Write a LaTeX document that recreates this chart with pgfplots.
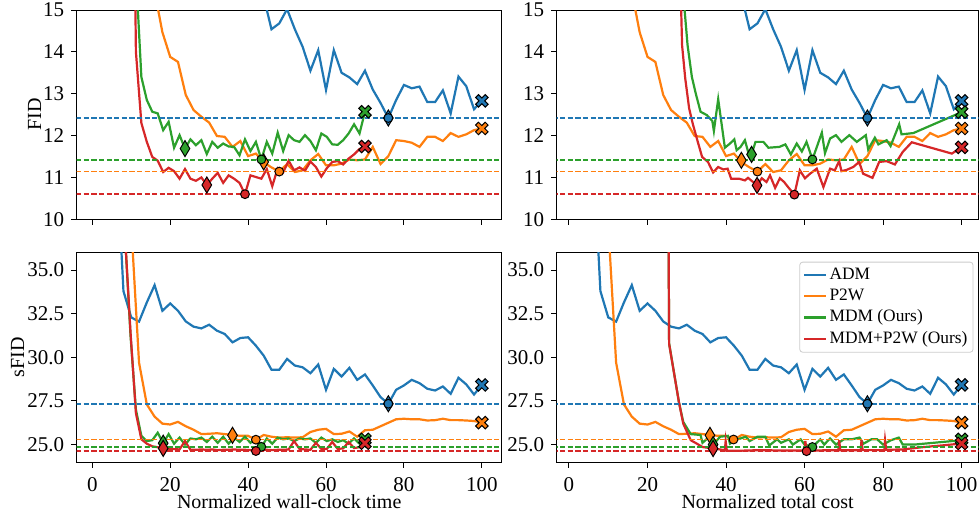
\documentclass[border=0pt]{standalone}
\usepackage{fontspec}
\setmainfont{Liberation Serif}
\usepackage{pgfplots}
\pgfplotsset{compat=1.18}

\definecolor{cA}{HTML}{1F77B4}
\definecolor{cB}{HTML}{FF7F0E}
\definecolor{cC}{HTML}{2CA02C}
\definecolor{cD}{HTML}{D62728}

% filled plus, turned 45 degrees when used -> matplotlib "X"
\pgfdeclareplotmark{fatplus}{%
  \pgfpathmoveto{\pgfqpoint{0.3\pgfplotmarksize}{0.3\pgfplotmarksize}}%
  \pgfpathlineto{\pgfqpoint{0.3\pgfplotmarksize}{\pgfplotmarksize}}%
  \pgfpathlineto{\pgfqpoint{-0.3\pgfplotmarksize}{\pgfplotmarksize}}%
  \pgfpathlineto{\pgfqpoint{-0.3\pgfplotmarksize}{0.3\pgfplotmarksize}}%
  \pgfpathlineto{\pgfqpoint{-\pgfplotmarksize}{0.3\pgfplotmarksize}}%
  \pgfpathlineto{\pgfqpoint{-\pgfplotmarksize}{-0.3\pgfplotmarksize}}%
  \pgfpathlineto{\pgfqpoint{-0.3\pgfplotmarksize}{-0.3\pgfplotmarksize}}%
  \pgfpathlineto{\pgfqpoint{-0.3\pgfplotmarksize}{-\pgfplotmarksize}}%
  \pgfpathlineto{\pgfqpoint{0.3\pgfplotmarksize}{-\pgfplotmarksize}}%
  \pgfpathlineto{\pgfqpoint{0.3\pgfplotmarksize}{-0.3\pgfplotmarksize}}%
  \pgfpathlineto{\pgfqpoint{\pgfplotmarksize}{-0.3\pgfplotmarksize}}%
  \pgfpathlineto{\pgfqpoint{\pgfplotmarksize}{0.3\pgfplotmarksize}}%
  \pgfpathclose
  \pgfusepathqfillstroke
}

\pgfplotsset{
  panel/.style={
    scale only axis, anchor=south west,
    tick align=outside, tick pos=left,
    major tick length=2.8pt,
    axis line style={line width=0.5pt},
    every tick/.style={black, line width=0.5pt},
    ticklabel style={font=\fontsize{10.5}{12}\selectfont},
    xticklabel style={inner sep=0.5pt, yshift=-4.5pt},
    label style={font=\fontsize{10.5}{12}\selectfont},
    /pgf/number format/assume math mode=true,
    xtick={0,20,...,100},
    every axis y label/.style={at={(axis description cs:-0.099,0.5)}, rotate=90, anchor=center},
    every axis x label/.style={at={(axis description cs:0.5,0)}, anchor=base, inner sep=0pt, yshift=-23.2pt, font=\fontsize{10}{12}\selectfont},
  },
  fidax/.style={ymin=10, ymax=15, ytick={10,11,...,15}, xticklabels={}},
  sfidax/.style={ymin=24, ymax=36, ytick={25,27.5,...,35},
    yticklabel style={/pgf/number format/.cd, fixed, fixed zerofill, precision=1}},
  cur/.style={color=#1, line width=1.1pt, no markers},
  hl/.style={color=#1, line width=0.8pt, dash pattern=on 2.6pt off 1.2pt, no markers, forget plot},
  dmk/.style={only marks, forget plot, mark=diamond*, mark size=4pt, mark options={draw=black, fill=#1, line width=0.5pt, xscale=0.8}},
  cmk/.style={only marks, forget plot, mark=*, mark size=2.2pt, mark options={draw=black, fill=#1, line width=0.5pt}},
  xmk/.style={only marks, forget plot, mark=fatplus, mark size=3.4pt, mark options={draw=black, fill=#1, line width=0.5pt, rotate=45}},
}

\begin{document}
\begin{tikzpicture}
\useasboundingbox (0,0) rectangle (489.5pt,255pt);

% ---------------- FID vs wall-clock ----------------
\begin{axis}[panel, fidax, at={(38.35pt,145.35pt)}, width=212.5pt, height=104.65pt,
  xmin=-4, xmax=105.1, ylabel={FID}]
\addplot[cur=cA] coordinates {(2,60)(4,45)(6,35)(8,30)(10,27)(12,25)(14,23)(16,21.5)(18,20.5)(20,19.6)(22,18.8)(24,18.1)(26,17.6)(28,17.2)(30,16.8)(32,16.5)(34,16.2)(36,16.0)(38,15.8)(40,15.6)(42,15.45)(44,15.31)(46,14.54)(48,14.68)(50,15.02)(52,14.54)(54,14.12)(56,13.55)(58,14.04)(60,13.09)(62,14.04)(64,13.50)(66,13.39)(68,13.23)(70,13.55)(72,13.10)(74,12.78)(76,12.42)(78,12.85)(80,13.21)(82,13.13)(84,13.17)(86,12.80)(88,12.80)(90,13.08)(92,12.53)(94,13.41)(96,13.18)(98,12.63)(100,12.83)};
\addplot[cur=cB] coordinates {(2,60)(4,40)(6,30)(8,24)(10,20)(12,18)(14,16.5)(16,15.44)(18,14.47)(20,13.88)(22,13.76)(24,12.97)(26,12.61)(28,12.45)(30,12.31)(32,11.99)(34,11.97)(36,11.73)(38,11.87)(40,11.51)(42,11.57)(44,11.36)(46,11.24)(48,11.14)(50,11.32)(52,11.13)(54,11.17)(56,11.41)(58,11.56)(60,11.29)(62,11.29)(64,11.33)(66,11.43)(68,11.41)(70,11.43)(72,11.73)(74,11.32)(76,11.51)(78,11.89)(80,11.87)(82,11.83)(84,11.73)(86,11.97)(88,11.97)(90,11.87)(92,12.06)(94,11.97)(96,12.03)(98,12.13)(100,12.17)};
\addplot[cur=cC] coordinates {(8.4,40)(9.8,22)(11.2,15.9)(12.6,13.40)(14.0,12.85)(15.4,12.57)(16.8,12.53)(18.2,12.13)(19.6,12.33)(21.0,11.71)(22.4,12.01)(23.8,11.69)(25.2,11.91)(26.6,11.77)(28.0,11.89)(29.4,11.56)(30.8,11.85)(32.2,11.71)(33.6,11.81)(35.0,11.74)(36.4,11.73)(37.8,11.53)(39.2,11.91)(40.6,11.63)(42.0,11.85)(43.4,11.43)(44.8,11.85)(46.2,11.57)(47.6,12.07)(49.0,11.63)(50.4,12.01)(51.8,11.89)(53.2,11.85)(54.6,12.01)(56.0,11.87)(57.4,11.65)(58.8,12.05)(60.2,11.97)(61.6,11.79)(63.0,11.78)(64.4,11.89)(65.8,12.05)(67.2,12.27)(68.6,12.05)(70.0,12.57)};
\addplot[cur=cD] coordinates {(8.4,40)(9.8,25)(11.2,14.0)(12.6,12.3)(14.0,11.85)(15.4,11.49)(16.8,11.40)(18.2,11.13)(19.6,11.23)(21.0,11.15)(22.4,10.97)(23.8,11.20)(25.2,10.97)(26.6,10.92)(28.0,11.00)(29.4,10.82)(30.8,10.97)(32.2,11.11)(33.6,10.87)(35.0,11.05)(36.4,10.97)(37.8,10.87)(39.2,10.60)(40.6,11.05)(42.0,11.01)(43.4,10.97)(44.8,11.20)(46.2,10.79)(47.6,11.22)(49.0,11.12)(50.4,11.40)(51.8,11.17)(53.2,11.24)(54.6,11.16)(56.0,11.38)(57.4,11.25)(58.8,11.02)(60.2,11.22)(61.6,11.37)(63.0,11.39)(64.4,11.31)(65.8,11.45)(67.2,11.55)(68.6,11.68)(70.0,11.74)};
\addplot[hl=cA] coordinates {(-10,12.42)(110,12.42)};
\addplot[hl=cC] coordinates {(-10,11.42)(110,11.42)};
\addplot[hl=cB] coordinates {(-10,11.14)(110,11.14)};
\addplot[hl=cD] coordinates {(-10,10.60)(110,10.60)};
\addplot[dmk=cA] coordinates {(76,12.42)};
\addplot[cmk=cA] coordinates {(76,12.42)};
\addplot[xmk=cA] coordinates {(100,12.83)};
\addplot[dmk=cB] coordinates {(44,11.37)};
\addplot[cmk=cB] coordinates {(48,11.14)};
\addplot[xmk=cB] coordinates {(100,12.17)};
\addplot[dmk=cC] coordinates {(23.8,11.69)};
\addplot[cmk=cC] coordinates {(43.4,11.43)};
\addplot[xmk=cC] coordinates {(70,12.57)};
\addplot[dmk=cD] coordinates {(29.4,10.82)};
\addplot[cmk=cD] coordinates {(39.2,10.60)};
\addplot[xmk=cD] coordinates {(70,11.74)};
\end{axis}

% ---------------- FID vs total cost ----------------
\begin{axis}[panel, fidax, at={(278.35pt,145.35pt)}, width=210.9pt, height=104.65pt,
  xmin=-3.13, xmax=104.3]
\addplot[cur=cA] coordinates {(2,60)(4,45)(6,35)(8,30)(10,27)(12,25)(14,23)(16,21.5)(18,20.5)(20,19.6)(22,18.8)(24,18.1)(26,17.6)(28,17.2)(30,16.8)(32,16.5)(34,16.2)(36,16.0)(38,15.8)(40,15.6)(42,15.45)(44,15.31)(46,14.54)(48,14.68)(50,15.02)(52,14.54)(54,14.12)(56,13.55)(58,14.04)(60,13.09)(62,14.04)(64,13.50)(66,13.39)(68,13.23)(70,13.55)(72,13.10)(74,12.78)(76,12.42)(78,12.85)(80,13.21)(82,13.13)(84,13.17)(86,12.80)(88,12.80)(90,13.08)(92,12.53)(94,13.41)(96,13.18)(98,12.63)(100,12.83)};
\addplot[cur=cB] coordinates {(2,60)(4,40)(6,30)(8,24)(10,20)(12,18)(14,16.5)(16,15.44)(18,14.47)(20,13.88)(22,13.76)(24,12.97)(26,12.61)(28,12.45)(30,12.31)(32,11.99)(34,11.97)(36,11.73)(38,11.87)(40,11.51)(42,11.57)(44,11.36)(46,11.24)(48,11.14)(50,11.32)(52,11.13)(54,11.17)(56,11.41)(58,11.56)(60,11.29)(62,11.29)(64,11.33)(66,11.43)(68,11.41)(70,11.43)(72,11.73)(74,11.32)(76,11.51)(78,11.89)(80,11.87)(82,11.83)(84,11.73)(86,11.97)(88,11.97)(90,11.87)(92,12.06)(94,11.97)(96,12.03)(98,12.13)(100,12.17)};
\addplot[cur=cC] coordinates {(26.5,40)(28.1,16.5)(30.2,14.16)(31.3,13.40)(32.3,13.0)(33.5,12.57)(35.1,12.49)(36.5,12.35)(36.9,12.11)(38.0,12.87)(39.7,11.71)(41.0,11.81)(42.1,11.91)(42.7,11.65)(43.7,11.73)(44.8,11.89)(45.6,11.62)(46.5,11.55)(47.5,11.85)(49.5,11.85)(50.8,11.71)(53.6,11.73)(55.1,11.79)(56.5,11.55)(58.0,11.81)(59.3,11.62)(60.5,11.85)(62.0,11.43)(64.4,12.07)(65.2,11.58)(66.5,11.93)(68.0,12.01)(69.4,11.85)(71.4,12.01)(73.3,11.85)(75.6,12.01)(76.2,11.67)(77.9,11.95)(78.8,11.79)(80.9,11.89)(81.9,11.75)(84.1,12.27)(84.7,12.03)(87.7,12.06)(100,12.56)};
\addplot[cur=cD] coordinates {(25.5,40)(27.9,17.5)(28.8,14.16)(29.6,13.37)(30.6,12.65)(31.5,12.29)(32.8,11.85)(33.9,11.49)(35.4,11.37)(36.7,11.12)(38.0,11.25)(39.3,11.19)(40.4,11.21)(41.3,10.97)(43.3,10.97)(44.8,10.93)(45.6,10.99)(46.9,10.89)(47.9,10.81)(49.1,10.98)(50.3,10.89)(51.2,11.05)(52.5,10.75)(53.7,10.98)(54.8,10.89)(55.8,10.77)(57.4,10.59)(58.8,11.17)(60.1,10.98)(61.4,11.09)(63.1,11.21)(64.8,10.77)(66.5,11.21)(67.7,11.17)(68.8,11.39)(69.4,11.15)(70.7,11.18)(72.4,11.25)(73.9,11.37)(74.9,11.09)(77.3,10.99)(79.0,11.37)(80.9,11.39)(83.0,11.31)(85.0,11.61)(87.3,11.84)(97.5,11.57)(100,11.72)};
\addplot[hl=cA] coordinates {(-10,12.42)(110,12.42)};
\addplot[hl=cC] coordinates {(-10,11.42)(110,11.42)};
\addplot[hl=cB] coordinates {(-10,11.14)(110,11.14)};
\addplot[hl=cD] coordinates {(-10,10.60)(110,10.60)};
\addplot[dmk=cA] coordinates {(76,12.42)};
\addplot[cmk=cA] coordinates {(76,12.42)};
\addplot[xmk=cA] coordinates {(100,12.83)};
\addplot[dmk=cB] coordinates {(43.9,11.41)};
\addplot[cmk=cB] coordinates {(48,11.14)};
\addplot[xmk=cB] coordinates {(100,12.17)};
\addplot[dmk=cC] coordinates {(46.5,11.55)};
\addplot[cmk=cC] coordinates {(62.0,11.43)};
\addplot[xmk=cC] coordinates {(100,12.56)};
\addplot[dmk=cD] coordinates {(47.9,10.81)};
\addplot[cmk=cD] coordinates {(57.4,10.59)};
\addplot[xmk=cD] coordinates {(100,11.72)};
\end{axis}

% ---------------- sFID vs wall-clock ----------------
\begin{axis}[panel, sfidax, at={(38.35pt,24pt)}, width=212.5pt, height=104.65pt,
  xmin=-4, xmax=105.1, ylabel={sFID}, xlabel={Normalized wall-clock time},
  every axis y label/.style={at={(axis description cs:-0.139,0.5)}, rotate=90, anchor=center}]
\addplot[cur=cA] coordinates {(2,60)(4,50)(6,42.6)(8,33.8)(10,32.29)(12,32.05)(14,33.15)(16,34.14)(18,32.67)(20,33.09)(22,32.67)(24,32.06)(26,31.76)(28,31.66)(30,31.87)(32,31.53)(34,31.34)(36,30.86)(38,31.11)(40,31.15)(42,30.67)(44,30.10)(46,29.29)(48,29.29)(50,29.91)(52,29.53)(54,29.43)(56,29.09)(58,29.59)(60,28.14)(62,29.34)(64,28.90)(66,29.40)(68,28.71)(70,29.02)(72,28.39)(74,27.72)(76,27.34)(78,28.14)(80,28.39)(82,28.71)(84,28.52)(86,28.20)(88,28.10)(90,28.33)(92,27.91)(94,28.83)(96,28.45)(98,27.87)(100,28.42)};
\addplot[cur=cB] coordinates {(2,60)(4,50)(6,45)(8,41)(10,37.6)(12,29.7)(14,27.3)(16,26.6)(18,26.2)(20,26.15)(22,26.3)(24,26.05)(26,25.85)(28,25.6)(30,25.62)(32,25.65)(34,25.6)(36,25.55)(38,25.5)(40,25.5)(42,25.28)(44,25.55)(46,25.45)(48,25.4)(50,25.42)(52,25.4)(54,25.42)(56,25.72)(58,25.85)(60,25.9)(62,25.6)(64,25.62)(66,25.75)(68,25.45)(70,25.82)(72,25.85)(74,26.05)(76,26.25)(78,26.45)(80,26.48)(82,26.45)(84,26.45)(86,26.38)(88,26.4)(90,26.48)(92,26.4)(94,26.4)(96,26.38)(98,26.35)(100,26.26)};
\addplot[cur=cC] coordinates {(8.4,37)(9.8,31.3)(11.2,27.0)(12.6,25.5)(14.0,25.2)(15.4,25.25)(16.8,25.68)(18.2,25.08)(19.6,25.6)(21.0,25.05)(22.4,25.4)(23.8,25.0)(25.2,25.35)(26.6,25.3)(28.0,25.4)(29.4,25.15)(30.8,25.45)(32.2,25.1)(33.6,25.45)(35.0,25.05)(36.4,25.4)(37.8,25.15)(39.2,25.45)(40.6,25.1)(42.0,25.35)(43.4,24.87)(44.8,25.35)(46.2,25.05)(47.6,25.4)(49.0,25.3)(50.4,25.35)(51.8,25.2)(53.2,25.35)(54.6,25.3)(56.0,25.35)(57.4,25.1)(58.8,25.4)(60.2,25.2)(61.6,25.3)(63.0,25.15)(64.4,25.25)(65.8,25.05)(67.2,25.35)(68.6,25.05)(70.0,25.3)};
\addplot[cur=cD] coordinates {(8.4,37)(9.8,31.5)(11.2,26.8)(12.6,25.3)(14.0,25.05)(15.4,24.9)(16.8,24.85)(18.2,24.78)(19.6,24.75)(21.0,24.74)(22.4,24.72)(23.8,25.2)(25.2,24.7)(26.6,24.7)(28.0,24.72)(29.4,24.7)(30.8,24.72)(32.2,24.68)(33.6,24.7)(35.0,24.7)(36.4,24.72)(37.8,24.7)(39.2,24.7)(40.6,24.68)(42.0,24.63)(43.4,24.68)(44.8,24.7)(46.2,24.68)(47.6,24.7)(49.0,24.7)(50.4,24.72)(51.8,25.2)(53.2,24.75)(54.6,24.72)(56.0,24.7)(57.4,25.1)(58.8,24.75)(60.2,24.75)(61.6,25.15)(63.0,24.75)(64.4,24.78)(65.8,25.15)(67.2,24.8)(68.6,24.85)(70.0,25.08)};
\addplot[hl=cA] coordinates {(-10,27.32)(110,27.32)};
\addplot[hl=cB] coordinates {(-10,25.28)(110,25.28)};
\addplot[hl=cC] coordinates {(-10,24.86)(110,24.86)};
\addplot[hl=cD] coordinates {(-10,24.62)(110,24.62)};
\addplot[dmk=cA] coordinates {(76,27.34)};
\addplot[cmk=cA] coordinates {(76,27.34)};
\addplot[xmk=cA] coordinates {(100,28.42)};
\addplot[dmk=cB] coordinates {(36,25.53)};
\addplot[cmk=cB] coordinates {(42,25.28)};
\addplot[xmk=cB] coordinates {(100,26.26)};
\addplot[dmk=cC] coordinates {(18.2,25.08)};
\addplot[cmk=cC] coordinates {(43.4,24.87)};
\addplot[xmk=cC] coordinates {(70,25.3)};
\addplot[dmk=cD] coordinates {(18.2,24.78)};
\addplot[cmk=cD] coordinates {(42,24.63)};
\addplot[xmk=cD] coordinates {(70,25.08)};
\end{axis}

% ---------------- sFID vs total cost ----------------
\begin{axis}[panel, sfidax, at={(278.35pt,24pt)}, width=210.9pt, height=104.65pt,
  xmin=-3.13, xmax=104.3, xlabel={Normalized total cost},
  legend entries={ADM,P2W,MDM (Ours),MDM+P2W (Ours)},
  legend cell align=left,
  legend image code/.code={\draw[#1, line width=1.1pt] (0pt,0pt) -- (11pt,0pt);},
  legend style={at={(axis description cs:0.988,0.957)}, anchor=north east,
    draw=black!20, rounded corners=1.5pt, fill=white,
    font=\fontsize{8.7}{10}\selectfont, inner sep=1.8pt, row sep=1.3pt,
    nodes={inner sep=1pt}}]
\addplot[cur=cA] coordinates {(2,60)(4,50)(6,42.6)(8,33.8)(10,32.29)(12,32.05)(14,33.15)(16,34.14)(18,32.67)(20,33.09)(22,32.67)(24,32.06)(26,31.76)(28,31.66)(30,31.87)(32,31.53)(34,31.34)(36,30.86)(38,31.11)(40,31.15)(42,30.67)(44,30.10)(46,29.29)(48,29.29)(50,29.91)(52,29.53)(54,29.43)(56,29.09)(58,29.59)(60,28.14)(62,29.34)(64,28.90)(66,29.40)(68,28.71)(70,29.02)(72,28.39)(74,27.72)(76,27.34)(78,28.14)(80,28.39)(82,28.71)(84,28.52)(86,28.20)(88,28.10)(90,28.33)(92,27.91)(94,28.83)(96,28.45)(98,27.87)(100,28.42)};
\addplot[cur=cB] coordinates {(2,60)(4,50)(6,45)(8,41)(10,37.6)(12,29.7)(14,27.3)(16,26.6)(18,26.2)(20,26.15)(22,26.3)(24,26.05)(26,25.85)(28,25.6)(30,25.62)(32,25.65)(34,25.6)(36,25.55)(38,25.5)(40,25.5)(42,25.28)(44,25.55)(46,25.45)(48,25.4)(50,25.42)(52,25.4)(54,25.42)(56,25.72)(58,25.85)(60,25.9)(62,25.6)(64,25.62)(66,25.75)(68,25.45)(70,25.82)(72,25.85)(74,26.05)(76,26.25)(78,26.45)(80,26.48)(82,26.45)(84,26.45)(86,26.38)(88,26.4)(90,26.48)(92,26.4)(94,26.4)(96,26.38)(98,26.35)(100,26.26)};
\addplot[cur=cC] coordinates {(25.3,40)(25.5,30.8)(28.0,27.43)(29.1,26.3)(31.0,25.6)(33.5,25.55)(34.0,25.1)(36.0,25.5)(36.7,25.0)(38.5,25.45)(40.5,25.5)(41.0,25.05)(43.0,25.3)(45.0,25.45)(46.0,25.2)(48.0,25.45)(50.0,25.45)(51.0,24.95)(53.0,25.3)(54.0,25.1)(56.0,25.3)(57.0,25.0)(59.0,25.3)(60.0,25.0)(62.0,24.86)(64.0,25.3)(65.0,25.0)(66.5,25.35)(68.0,25.0)(70.0,25.3)(72.0,25.3)(74.0,25.4)(75.0,25.05)(77.0,25.3)(78.5,25.3)(80.0,25.0)(82.0,25.25)(84.0,25.4)(85.0,25.0)(88.0,25.0)(100,25.25)};
\addplot[cur=cD] coordinates {(25.3,40)(25.5,30.77)(28.0,27.43)(29.1,26.2)(31.0,25.25)(32.5,25.06)(34.0,24.86)(36.7,24.77)(38.5,24.72)(39.7,24.67)(39.9,25.2)(40.2,24.65)(44.0,24.65)(47.0,24.67)(50.0,24.68)(53.0,24.66)(56.0,24.66)(60.0,24.66)(60.2,25.2)(60.5,24.62)(62.0,24.66)(65.0,24.67)(68.6,24.67)(68.8,25.25)(69.1,24.67)(74.3,24.67)(74.5,25.25)(74.8,24.68)(80.3,24.68)(80.5,25.25)(80.8,24.7)(85.0,24.72)(90.0,24.85)(95.0,24.95)(100,25.06)};
\addplot[hl=cA] coordinates {(-10,27.32)(110,27.32)};
\addplot[hl=cB] coordinates {(-10,25.28)(110,25.28)};
\addplot[hl=cC] coordinates {(-10,24.86)(110,24.86)};
\addplot[hl=cD] coordinates {(-10,24.62)(110,24.62)};
\addplot[dmk=cA] coordinates {(76,27.34)};
\addplot[cmk=cA] coordinates {(76,27.34)};
\addplot[xmk=cA] coordinates {(100,28.42)};
\addplot[dmk=cB] coordinates {(35.9,25.53)};
\addplot[cmk=cB] coordinates {(41.9,25.29)};
\addplot[xmk=cB] coordinates {(100,26.26)};
\addplot[dmk=cC] coordinates {(36.7,25.0)};
\addplot[cmk=cC] coordinates {(62.0,24.86)};
\addplot[xmk=cC] coordinates {(100,25.3)};
\addplot[dmk=cD] coordinates {(36.7,24.77)};
\addplot[cmk=cD] coordinates {(60.5,24.62)};
\addplot[xmk=cD] coordinates {(100,25.06)};
\end{axis}
\end{tikzpicture}
\end{document}
